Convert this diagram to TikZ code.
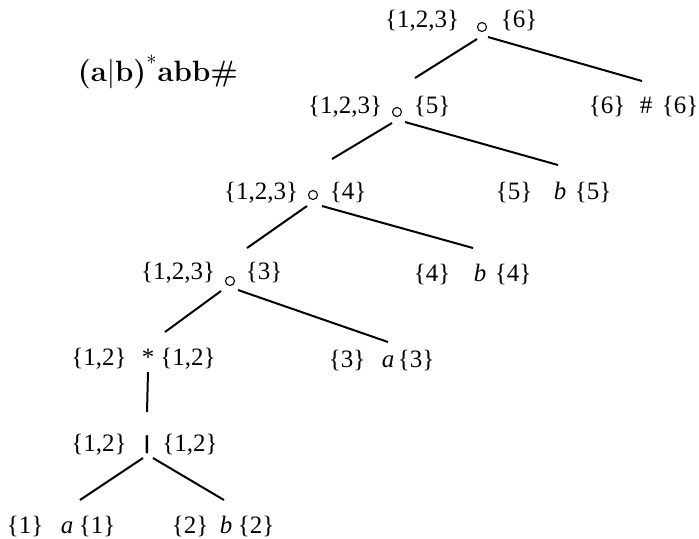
\documentclass[tikz,border=0pt]{standalone}
\usepackage{fontspec}
\usepackage{xcolor}
\newfontfamily\treefont{Liberation Serif}
\newfontfamily\barfont{Liberation Sans}

\tikzset{
  setlab/.style={anchor=base, inner sep=0pt, font=\treefont\fontsize{12.5}{14}\selectfont},
  sym/.style={setlab, font=\treefont\itshape\fontsize{12.5}{14}\selectfont},
  cat/.style={circle, draw, line width=0.55pt, inner sep=0pt, minimum size=4.5pt},
  link/.style={line width=1pt}
}

\begin{document}
\begin{tikzpicture}[x=0.5pt,y=-0.5pt]
\useasboundingbox (0,0) rectangle (699,538);

% concatenations down the left spine
\node[cat] (cat6) at (482,27) {};
\node[setlab] (cat6f) at (422,27) {\{1,2,3\}};
\node[setlab] (cat6l) at (519,27) {\{6\}};

\node[cat] (cat5) at (397,112) {};
\node[setlab] (cat5f) at (345,113) {\{1,2,3\}};
\node[setlab] (cat5l) at (432,113) {\{5\}};

\node[cat] (cat4) at (313,195) {};
\node[setlab] (cat4f) at (261,199) {\{1,2,3\}};
\node[setlab] (cat4l) at (348,199) {\{4\}};

\node[cat] (cat3) at (230,281) {};
\node[setlab] (cat3f) at (178,279) {\{1,2,3\}};
\node[setlab] (cat3l) at (264,279) {\{3\}};

% star and alternation
\node[setlab] (star) at (148,365) {*};
\node[setlab] (starf) at (99,365) {\{1,2\}};
\node[setlab] (starl) at (188,365) {\{1,2\}};

\node[setlab, font=\barfont\bfseries\fontsize{9.5}{10}\selectfont] (alt) at (147,449) {|};
\node[setlab] (altf) at (99,451) {\{1,2\}};
\node[setlab] (altl) at (190,451) {\{1,2\}};

% leaves
\node[setlab] (end6) at (646,113) {\#};
\node[setlab] (end6f) at (607,113) {\{6\}};
\node[setlab] (end6l) at (680,113) {\{6\}};

\node[sym] (b5) at (560,199) {b};
\node[setlab] (b5f) at (514,199) {\{5\}};
\node[setlab] (b5l) at (593,199) {\{5\}};

\node[sym] (b4) at (480,281) {b};
\node[setlab] (b4f) at (432,281) {\{4\}};
\node[setlab] (b4l) at (513,281) {\{4\}};

\node[sym] (a3) at (388,367) {a};
\node[setlab] (a3f) at (347,367) {\{3\}};
\node[setlab] (a3l) at (416,367) {\{3\}};

\node[sym] (a1) at (67,533) {a};
\node[setlab] (a1f) at (25,533) {\{1\}};
\node[setlab] (a1l) at (97,533) {\{1\}};

\node[sym] (b2) at (226,533) {b};
\node[setlab] (b2f) at (190,533) {\{2\}};
\node[setlab] (b2l) at (256,533) {\{2\}};

% tree edges
\draw[link] ([shift={(-5,12)}]cat6.center) -- ([shift={(18,-34)}]cat5.center);
\draw[link] ([shift={(6,10)}]cat6.center) -- ([shift={(-4,-32)}]end6.base);
\draw[link] ([shift={(-5,11)}]cat5.center) -- ([shift={(19,-36)}]cat4.center);
\draw[link] ([shift={(8,10)}]cat5.center) -- ([shift={(-2,-34)}]b5.base);
\draw[link] ([shift={(-6,11)}]cat4.center) -- ([shift={(17,-33)}]cat3.center);
\draw[link] ([shift={(9,11)}]cat4.center) -- ([shift={(-7,-33)}]b4.base);
\draw[link] ([shift={(-9,10)}]cat3.center) -- ([shift={(17,-33)}]star.base);
\draw[link] ([shift={(8,9)}]cat3.center) -- ([shift={(0,-25)}]a3.base);
\draw[link] ([shift={(0,7)}]star.base) -- ([shift={(0,-37)}]alt.base);
\draw[link] ([shift={(-4,9)}]alt.base) -- ([shift={(13,-33)}]a1.base);
\draw[link] ([shift={(6,9)}]alt.base) -- ([shift={(-2,-33)}]b2.base);

% the expression
\node[font=\fontsize{14.7}{17}\selectfont] (expr) at (158,72)
  {\textbf{(a}|\textbf{b)}\textsuperscript{*}\textbf{abb\#}};
\end{tikzpicture}
\end{document}
